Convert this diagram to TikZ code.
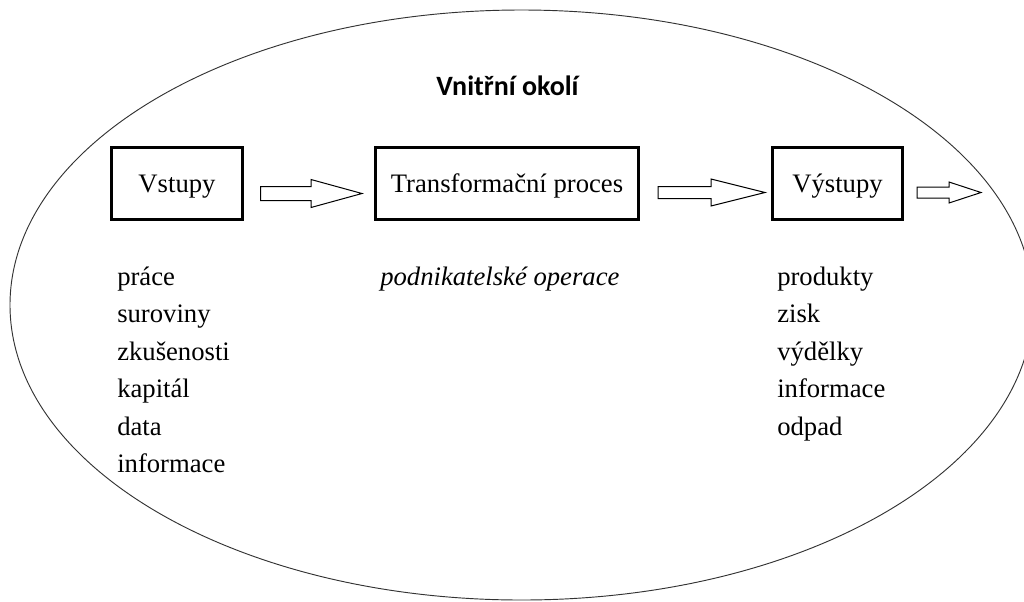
\documentclass[tikz,border=0pt]{standalone}
\usepackage{fontspec}
\setmainfont{Liberation Serif}
\newfontfamily\titlefont{Carlito}
\usetikzlibrary{calc}

% block arrow: #1 tail, #2 tip, #3 head length, #4 shaft half-height, #5 head half-height
\newcommand\blockarrow[5]{%
  \draw[blockarrow] ($(#1)+(0,-#4)$) -- ($(#2)+(-#3,-#4)$) -- ($(#2)+(-#3,-#5)$)
    -- (#2) -- ($(#2)+(-#3,#5)$) -- ($(#2)+(-#3,#4)$) -- ($(#1)+(0,#4)$) -- cycle;}

\tikzset{
  stage/.style={draw, line width=2.25pt, minimum width=98.25pt, minimum height=54pt,
    inner sep=0pt, text height=18pt, text depth=5pt, font=\fontsize{20}{24}\selectfont},
  blockarrow/.style={draw, line width=0.75pt, fill=white, line join=miter},
  item/.style={anchor=base west, inner sep=0pt, font=\fontsize{20}{24}\selectfont},
  boundary/.style={draw=black!80, line width=0.7pt},
  heading/.style={anchor=base, inner sep=0pt, font=\titlefont\bfseries\fontsize{21}{25}\selectfont},
}

\begin{document}
\begin{tikzpicture}[x=0.75pt,y=-0.75pt]
  \useasboundingbox (0,0) rectangle (1024,601);
  \clip (0,0) rectangle (1024,601);

  % surrounding environment
  \draw[boundary] (521.5,305) ellipse [x radius=511.5, y radius=295];
  \node[heading] (title) at (507.5,95) {Vnitřní okolí};

  % the three stages
  \node[stage] (vst) at (177,183.5) {Vstupy};
  \node[stage, minimum width=197.25pt] (trans) at (507,183.5) {Transformační proces};
  \node[stage, minimum width=97.5pt] (out) at (837.5,183.5) {Výstupy};

  % flow arrows
  \coordinate (a1t) at ($(vst.east)+(16.5,10)$);
  \coordinate (a1h) at ($(trans.west)+(-12,10)$);
  \blockarrow{a1t}{a1h}{51}{7}{14}
  \coordinate (a2t) at ($(trans.east)+(18,9)$);
  \coordinate (a2h) at ($(out.west)+(-6,9)$);
  \blockarrow{a2t}{a2h}{54}{6}{13.5}
  \coordinate (a3t) at ($(out.east)+(13,9)$);
  \coordinate (a3h) at ($(out.east)+(77,9)$);
  \blockarrow{a3t}{a3h}{32}{5.5}{10.5}

  % inputs
  \foreach \t [count=\i] in {práce,suroviny,zkušenosti,kapitál,data,informace}
    \node[item] (in\i) at (117,{285+37.5*(\i-1)}) {\t};

  % process
  \node[item, font=\itshape\fontsize{20}{24}\selectfont] (ops) at (380,285) {podnikatelské operace};

  % outputs
  \foreach \t [count=\i] in {produkty,zisk,výdělky,informace,odpad}
    \node[item] (res\i) at (777,{285+37.5*(\i-1)}) {\t};
\end{tikzpicture}
\end{document}
